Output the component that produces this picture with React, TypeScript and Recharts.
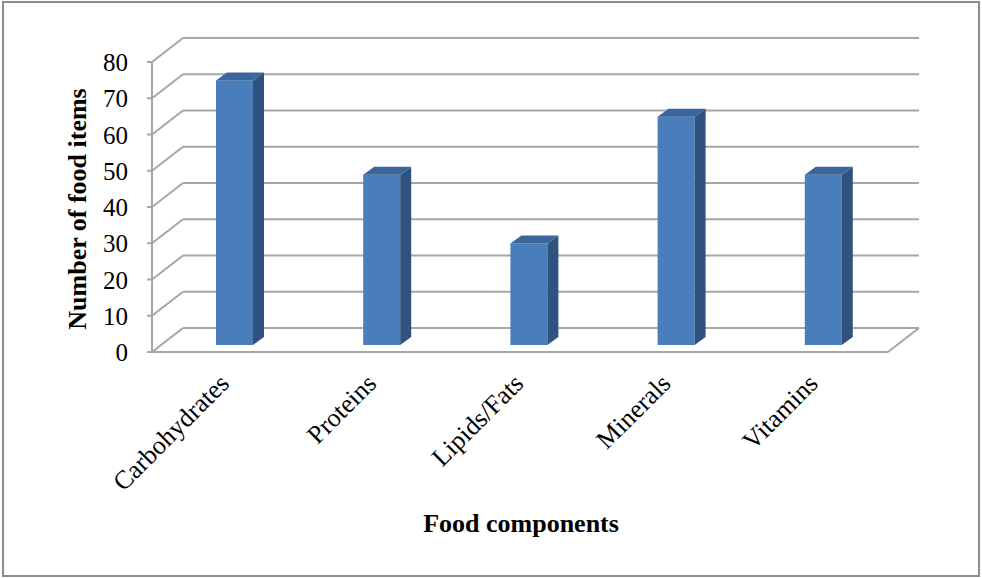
import { BarChart, Bar, XAxis, YAxis, CartesianGrid, Label } from "recharts";

const categories = ["Carbohydrates", "Proteins", "Lipids/Fats", "Minerals", "Vitamins"];
const foodItems = [73, 47, 28, 63, 47];
const yTicks = [0, 10, 20, 30, 40, 50, 60, 70, 80];

const data = categories.map((name, i) => ({ name, items: foodItems[i] }));

const W = 982;
const H = 578;
const X_AXIS_H = 160;
const MARGIN = { top: 62, right: 94, left: 0, bottom: 66 };
const PLOT_BOTTOM = H - MARGIN.bottom - X_AXIS_H; // front floor edge

// fake 3d offsets (back wall, bar position in depth, bar depth)
const WALL = { dx: 31, dy: -24 };
const BAR_OFF = { dx: 9, dy: -7 };
const BAR_DEPTH = { dx: 11, dy: -8 };

const FONT = '"Liberation Serif", "Times New Roman", serif';
const GRID = "#a6a6a6";
const FRONT = "#4a7ebb";
const SIDE = "#30527f";
const TOP = "#3b669b";

const gridLine = (p: any) => {
  const { x1, y1, x2 } = p;
  const bx = x1 + WALL.dx;
  const by = y1 + WALL.dy;
  const isFloor = Math.abs(y1 - PLOT_BOTTOM) < 1;
  return (
    <g key={`grid-${y1}`}>
      <line x1={x1} y1={y1} x2={bx} y2={by} stroke={GRID} strokeWidth={2} />
      <line x1={bx} y1={by} x2={x2 + WALL.dx} y2={by} stroke={GRID} strokeWidth={2} />
      {isFloor && (
        <line x1={x2} y1={y1} x2={x2 + WALL.dx} y2={by} stroke={GRID} strokeWidth={2} />
      )}
    </g>
  );
};

const Bar3D = (p: any) => {
  const { x, y, width, height } = p;
  if (!height) return null;
  const fx = x + BAR_OFF.dx;
  const fy = y + BAR_OFF.dy;
  const { dx, dy } = BAR_DEPTH;
  const r = fx + width;
  const b = fy + height;
  return (
    <g>
      <rect x={fx} y={fy} width={width} height={height} fill={FRONT} />
      <polygon points={`${r},${fy} ${r + dx},${fy + dy} ${r + dx},${b + dy} ${r},${b}`} fill={SIDE} />
      <polygon points={`${fx},${fy} ${fx + dx},${fy + dy} ${r + dx},${fy + dy} ${r},${fy}`} fill={TOP} />
    </g>
  );
};

const CatTick = (p: any) => {
  const { x, payload } = p;
  const ax = x + 5;
  const ay = PLOT_BOTTOM + 33;
  return (
    <text
      x={ax}
      y={ay}
      textAnchor="end"
      transform={`rotate(-45, ${ax}, ${ay})`}
      fontSize={26}
      fontFamily={FONT}
      fill="#000"
    >
      {payload.value}
    </text>
  );
};

const ValueTick = (p: any) => {
  const { x, y, payload } = p;
  return (
    <text x={x} y={y + 9} textAnchor="end" fontSize={25} fontFamily={FONT} fill="#000">
      {payload.value}
    </text>
  );
};

const YTitle = (p: any) => {
  const vb = p.viewBox;
  const cx = 86;
  const cy = vb.y + vb.height / 2 + 2;
  return (
    <text
      x={cx}
      y={cy}
      textAnchor="middle"
      transform={`rotate(-90, ${cx}, ${cy})`}
      fontSize={26}
      fontWeight="bold"
      fontFamily={FONT}
      fill="#000"
    >
      Number of food items
    </text>
  );
};

const XTitle = (p: any) => {
  const vb = p.viewBox;
  return (
    <text
      x={vb.x + vb.width / 2 + 1}
      y={vb.y + 180}
      textAnchor="middle"
      fontSize={26}
      fontWeight="bold"
      fontFamily={FONT}
      fill="#000"
    >
      Food components
    </text>
  );
};

export default function App() {
  return (
    <div style={{ position: "absolute", left: 0, top: 0, width: W, height: H, background: "#fff" }}>
      <div
        style={{
          position: "absolute",
          left: 2,
          top: 1,
          width: 978,
          height: 576,
          boxSizing: "border-box",
          border: "2px solid #8c8c8c",
        }}
      />
      <div style={{ position: "absolute", left: 0, top: 0 }}>
        <BarChart width={W} height={H} data={data} margin={MARGIN}>
          <CartesianGrid horizontal={gridLine} vertical={false} />
          <XAxis
            dataKey="name"
            height={X_AXIS_H}
            interval={0}
            tick={<CatTick />}
            tickLine={false}
            axisLine={{ stroke: GRID, strokeWidth: 2 }}
          >
            <Label content={<XTitle />} />
          </XAxis>
          <YAxis
            width={152}
            domain={[0, 80]}
            ticks={yTicks}
            interval={0}
            tickSize={5}
            tickMargin={19}
            tick={<ValueTick />}
            tickLine={{ stroke: GRID, strokeWidth: 2 }}
            axisLine={{ stroke: GRID, strokeWidth: 2 }}
          >
            <Label content={<YTitle />} />
          </YAxis>
          <Bar dataKey="items" barSize={37} shape={<Bar3D />} isAnimationActive={false} />
        </BarChart>
      </div>
    </div>
  );
}
